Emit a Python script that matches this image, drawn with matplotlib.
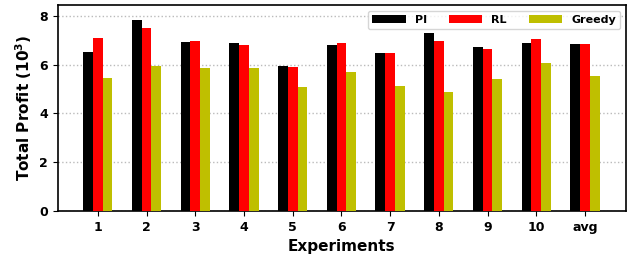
import matplotlib
matplotlib.use("Agg")
import matplotlib.pyplot as plt
import numpy as np

categories = ["1", "2", "3", "4", "5", "6", "7", "8", "9", "10", "avg"]
pi_vals = [6.52, 7.83, 6.93, 6.89, 5.94, 6.80, 6.48, 7.30, 6.72, 6.89, 6.84]
rl_vals = [7.09, 7.50, 6.97, 6.80, 5.90, 6.89, 6.48, 6.97, 6.64, 7.05, 6.84]
greedy_vals = [5.45, 5.94, 5.86, 5.86, 5.08, 5.70, 5.12, 4.88, 5.41, 6.07, 5.53]

plt.rcParams['font.family'] = ['DejaVu Sans']
plt.rcParams['font.weight'] = 'bold'

fig = plt.figure(figsize=(6.29, 2.62), dpi=100)
ax = fig.add_axes([0.092, 0.195, 0.903, 0.786])

x = np.arange(1, len(categories) + 1)
w = 0.2
ax.bar(x - w, pi_vals, w, color='black', label='PI', zorder=3)
ax.bar(x, rl_vals, w, color='red', label='RL', zorder=3)
ax.bar(x + w, greedy_vals, w, color='#bfbf00', label='Greedy', zorder=3)

ax.set_xlim(0.18, 11.84)
ax.set_ylim(0, 8.45)
ax.set_yticks([0, 2, 4, 6, 8])
ax.set_xticks(x)
ax.set_xticklabels(categories, fontsize=9, fontweight='bold')
for lab in ax.get_yticklabels():
    lab.set_fontsize(9)
    lab.set_fontweight('bold')
ax.yaxis.grid(True, linestyle=':', color='#bbbbbb', linewidth=1, zorder=0)
ax.set_xlabel('Experiments', fontsize=11, fontweight='bold')
ax.set_ylabel('Total Profit ($\\mathbf{10^3}$)', fontsize=11, fontweight='bold')
for s in ax.spines.values():
    s.set_linewidth(1.2)
leg = ax.legend(loc='upper right', ncol=3, prop={'weight': 'bold', 'size': 8},
                handlelength=3, columnspacing=2.0, frameon=True)
fig.savefig('out.png', dpi=100)
